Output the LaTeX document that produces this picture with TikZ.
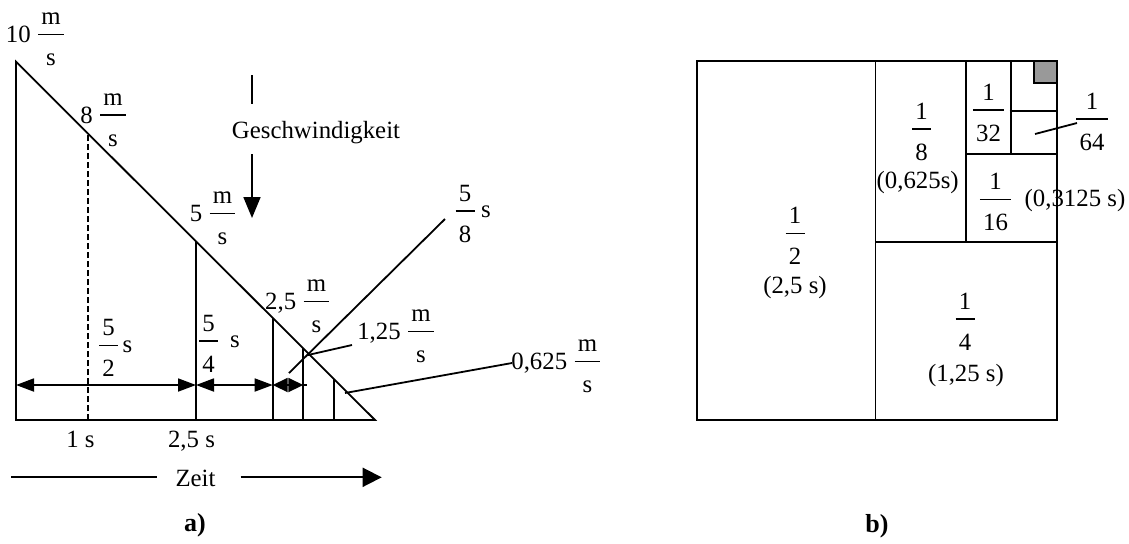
\documentclass[tikz,border=0pt]{standalone}
\usepackage{fontspec}
\setmainfont{Liberation Serif}
\usetikzlibrary{arrows.meta,calc,fit}
\definecolor{boxgray}{RGB}{153,153,153}
\tikzset{
  txt/.style={inner sep=0pt,font=\fontsize{12.4}{14}\selectfont},
  ttl/.style={inner sep=0pt,font=\fontsize{13}{15}\selectfont\bfseries},
  ln/.style={line width=0.9pt},
  fbar/.style={line width=0.65pt},
  dimarrow/.style={ln,{Triangle[length=9pt,width=6.5pt]}-{Triangle[length=9pt,width=6.5pt]}},
  dimsmall/.style={ln,{Triangle[length=7.5pt,width=7pt]}-{Triangle[length=7.5pt,width=7pt]}},
}
\newcommand\myfr[6]{%
  \coordinate (#1y) at (#2,#3);
  \node[txt,anchor=base] (#1n) at ($(#1y)+(0,-10)$) {#4};
  \node[txt,anchor=base] (#1d) at ($(#1y)+(0,31)$) {#5};
  \node[fit=(#1n)(#1d),inner sep=0pt] (#1f) {};
  \coordinate (#1l) at ($(#1f.west |- #1y)+(-2.5,0)$);
  \coordinate (#1r) at ($(#1f.east |- #1y)+(2.5,0)$);
  \draw[fbar] (#1l) -- (#1r);
  \if\relax\detokenize{#6}\relax\else
    \node[txt,anchor=base east] (#1p) at ($(#1l)+(-7,8)$) {#6};
  \fi
}
\begin{document}
\begin{tikzpicture}[x=0.5pt,y=-0.5pt]
\useasboundingbox (0,0) rectangle (1129,543);
% ---------- part a ----------
\coordinate (A) at (16,61.7);
\coordinate (O) at (16,420);
\coordinate (B) at (375,420);
\draw[ln,line join=miter] (A) -- (O) -- (B) -- cycle;
\coordinate (t1) at (88.3,133.9);  \coordinate (b1) at (88.3,420);
\coordinate (t2) at (196,241.3);   \coordinate (b2) at (196,420);
\coordinate (t3) at (272.7,317.9); \coordinate (b3) at (272.7,420);
\coordinate (t4) at (303.3,348.4); \coordinate (b4) at (303.3,420);
\coordinate (t5) at (334,379.1);   \coordinate (b5) at (334,420);
\draw[ln,dash pattern=on 3pt off 1.5pt] (b1) -- (t1);
\draw[ln] (b2) -- (t2);
\draw[ln] (b3) -- (t3);
\draw[ln] (b4) -- (t4);
\draw[ln] (b5) -- (t5);
% dimension arrows
\coordinate (d0) at (16,385);
\coordinate (d1) at (196,385);
\coordinate (d2) at (272.7,385);
\coordinate (d3) at (303.3,385);
\coordinate (d4) at (306.5,385);
\draw[dimarrow] (d0) -- (d1);
\draw[dimarrow] (d1) -- (d2);
\draw[dimsmall] (d2) -- (d3);
\draw[ln] (d3) -- (d4);
% 5/8 line and leaders
\coordinate (q1) at (445,219);
\coordinate (q2) at (289,373);
\draw[ln] (q2) -- (q1);
\coordinate (r1) at (352,345);
\coordinate (r2) at (308,355);
\draw[ln] (r1) -- (r2);
\coordinate (s1) at (345,393);
\coordinate (s2) at (512,363);
\draw[ln] (s1) -- (s2);
% Geschwindigkeit
\node[txt,anchor=base] (gesch) at (316,138) {Geschwindigkeit};
\coordinate (g1) at (252,75);
\coordinate (g2) at (252,104);
\coordinate (g3) at (252,154);
\coordinate (g4) at (252,218);
\draw[ln] (g1) -- (g2);
\draw[ln,-{Triangle[length=10.5pt,width=8.5pt]}] (g3) -- (g4);
% Zeit
\node[txt,anchor=base] (zeit) at (195.5,486) {Zeit};
\coordinate (z1) at (11,477.3);
\coordinate (z2) at (157,477.3);
\coordinate (z3) at (240.7,477.3);
\coordinate (z4) at (381.7,477.3);
\draw[ln] (z1) -- (z2);
\draw[ln,-{Triangle[length=9.5pt,width=9.5pt]}] (z3) -- (z4);
% axis labels
\node[txt,anchor=base] (l1s) at (80.5,447) {1 s};
\node[txt,anchor=base] (l25s) at (191.5,447) {2,5 s};
\node[ttl,anchor=base] (capa) at (195,531) {a)};
% speed fractions
\myfr{fa}{51}{34.3}{m}{s}{10}
\myfr{fb}{113}{115}{m}{s}{8}
\myfr{fc}{222.5}{213.5}{m}{s}{5}
\myfr{fd}{316.5}{301.7}{m}{s}{2,5}
\myfr{fe}{421}{331.7}{m}{s}{1,25}
\myfr{ff}{587.5}{361.7}{m}{s}{0,625}
% time fractions
\myfr{fg}{465}{211}{5}{8}{}
\node[txt,anchor=base] (fgs) at (486,217.5) {s};
\myfr{fh}{108.5}{345.7}{5}{2}{}
\node[txt,anchor=base] (fhs) at (127.5,352) {s};
\myfr{fi}{208.5}{341}{5}{4}{}
\node[txt,anchor=base] (fis) at (235,347) {s};
% ---------- part b ----------
\coordinate (P1) at (697,61);
\coordinate (P2) at (1057,420);
\draw[ln] (P1) rectangle (P2);
\coordinate (v1t) at (875.5,61);  \coordinate (v1b) at (875.5,420);
\draw[ln] (v1t) -- (v1b);
\coordinate (h1l) at (875.5,242); \coordinate (h1r) at (1057,242);
\draw[ln] (h1l) -- (h1r);
\coordinate (v2t) at (966,61);    \coordinate (v2b) at (966,242);
\draw[ln] (v2t) -- (v2b);
\coordinate (h2l) at (966,154);   \coordinate (h2r) at (1057,154);
\draw[ln] (h2l) -- (h2r);
\coordinate (v3t) at (1010.7,61); \coordinate (v3b) at (1010.7,154);
\draw[ln] (v3t) -- (v3b);
\coordinate (h3l) at (1009.5,110.7); \coordinate (h3r) at (1057,110.7);
\draw[ln] (h3l) -- (h3r);
\coordinate (G1) at (1034,61);
\coordinate (G2) at (1057,82.7);
\draw[ln,fill=boxgray] (G1) rectangle (G2);
\coordinate (k1) at (1035,134);
\coordinate (k2) at (1077,123);
\draw[ln] (k1) -- (k2);
\myfr{ba}{1092}{119}{1}{64}{}
\myfr{bb}{988.5}{110}{1}{32}{}
\myfr{bc}{921.5}{129}{1}{8}{}
\myfr{bd}{995.5}{199.3}{1}{16}{}
\myfr{be}{795}{233.3}{1}{2}{}
\myfr{bf}{965}{319}{1}{4}{}
\node[txt,anchor=base] (tc) at (917.7,188) {(0,625s)};
\node[txt,anchor=base] (td) at (1075,206) {(0,3125 s)};
\node[txt,anchor=base] (te) at (795,293) {(2,5 s)};
\node[txt,anchor=base] (tf) at (966,381) {(1,25 s)};
\node[ttl,anchor=base] (capb) at (877,532) {b)};
\end{tikzpicture}
\end{document}
